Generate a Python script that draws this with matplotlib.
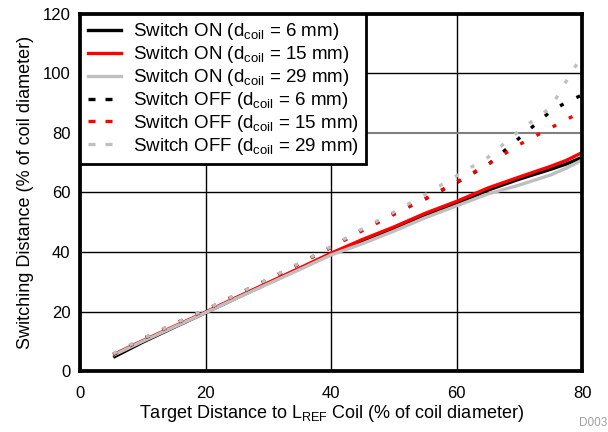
import matplotlib
matplotlib.use("Agg")
import matplotlib.pyplot as plt
from matplotlib.lines import Line2D

plt.rcParams['font.family'] = ['Liberation Sans', 'DejaVu Sans']
plt.rcParams['mathtext.default'] = 'regular'

x = [5.3, 10, 15, 20, 25, 30, 35, 40, 45, 50, 55, 60, 65, 70, 75, 77.5, 80]

on_6 = [4.6, 9.7, 14.7, 19.6, 24.6, 29.5, 34.4, 39.4, 43.8, 48.0, 52.5, 56.3, 60.8, 64.5, 67.8, 69.6, 71.8]
on_15 = [5.5, 10.2, 15.0, 19.8, 24.8, 29.7, 34.6, 39.6, 44.2, 48.4, 53.0, 57.0, 61.5, 65.2, 68.8, 70.8, 73.4]
on_29 = [5.3, 10.0, 14.8, 19.6, 24.5, 29.3, 34.1, 39.0, 42.8, 47.0, 51.5, 55.5, 59.5, 62.5, 65.9, 68.2, 70.9]

off_6 = [5.6, 10.8, 15.8, 20.5, 25.7, 30.8, 36.1, 41.6, 47.4, 53.0, 57.8, 63.3, 69.3, 78.3, 87.3, 90.3, 92.8]
off_15 = [5.6, 10.8, 15.8, 20.5, 25.7, 30.8, 36.1, 41.6, 47.2, 52.6, 57.9, 63.5, 69.5, 76.1, 81.7, 84.5, 87.2]
off_29 = [5.8, 10.9, 15.9, 20.6, 25.8, 30.9, 36.3, 41.8, 47.8, 53.4, 59.3, 65.6, 71.8, 80.8, 88.5, 97.5, 106.0]

labels = [
    'Switch ON (d$_{coil}$ = 6 mm)',
    'Switch ON (d$_{coil}$ = 15 mm)',
    'Switch ON (d$_{coil}$ = 29 mm)',
    'Switch OFF (d$_{coil}$ = 6 mm)',
    'Switch OFF (d$_{coil}$ = 15 mm)',
    'Switch OFF (d$_{coil}$ = 29 mm)',
]
colors = ['black', '#ff0000', '#bfbfbf']

fig = plt.figure(figsize=(6.08, 4.32), dpi=100)
ax = fig.add_axes([0.1316, 0.1412, 0.8257, 0.8264])

lw = 2.4
ax.plot(x, on_6, color=colors[0], lw=lw, zorder=3, solid_capstyle='butt')
ax.plot(x, on_15, color=colors[1], lw=lw, zorder=3, solid_capstyle='butt')
ax.plot(x, on_29, color=colors[2], lw=lw, zorder=3, solid_capstyle='butt')
dot = (0, (1.2, 4.3))
ax.plot(x, off_6, color=colors[0], lw=lw, ls=dot, zorder=3)
ax.plot(x, off_15, color=colors[1], lw=lw, ls=dot, zorder=3)
ax.plot(x, off_29, color=colors[2], lw=lw, ls=dot, zorder=3)

ax.set_xlim(0, 80)
ax.set_ylim(0, 120)
ax.set_xticks([0, 20, 40, 60, 80])
ax.set_yticks([0, 20, 40, 60, 80, 100, 120])
ax.grid(True, color='black', lw=1.0, zorder=1)
for gl, v in zip(ax.get_ygridlines(), [0, 20, 40, 60, 80, 100, 120]):
    if v == 80:
        gl.set_color('#808080')
        gl.set_linewidth(1.5)
ax.set_axisbelow(True)
ax.tick_params(length=0, labelsize=12)
ax.tick_params(axis='x', pad=11)
ax.tick_params(axis='y', pad=7)
for s in ax.spines.values():
    s.set_linewidth(2.7)
    s.set_color('black')
    s.set_zorder(5)

ax.set_xlabel('Target Distance to L$_{REF}$ Coil (% of coil diameter)', fontsize=13, labelpad=1)
ax.set_ylabel('Switching Distance (% of coil diameter)', fontsize=13, labelpad=6)

handles = [
    Line2D([], [], color=colors[0], lw=2.4),
    Line2D([], [], color=colors[1], lw=2.4),
    Line2D([], [], color=colors[2], lw=2.4),
    Line2D([], [], color=colors[0], lw=2.4, ls=(0, (2.1, 3.0))),
    Line2D([], [], color=colors[1], lw=2.4, ls=(0, (2.1, 3.0))),
    Line2D([], [], color=colors[2], lw=2.4, ls=(0, (2.1, 3.0))),
]
leg = ax.legend(handles, labels, loc='upper left', borderaxespad=0, fontsize=13.5,
                frameon=True, fancybox=False, handlelength=1.8, handletextpad=0.6,
                labelspacing=0.1, borderpad=0.4)
leg.get_frame().set_edgecolor('black')
leg.get_frame().set_linewidth(2.0)
leg.get_frame().set_alpha(1)
leg.set_zorder(6)

fig.text(0.998, 0.013, 'D003', color='#a0a0a0', fontsize=8.5, ha='right')

fig.savefig('out.png', dpi=100)
